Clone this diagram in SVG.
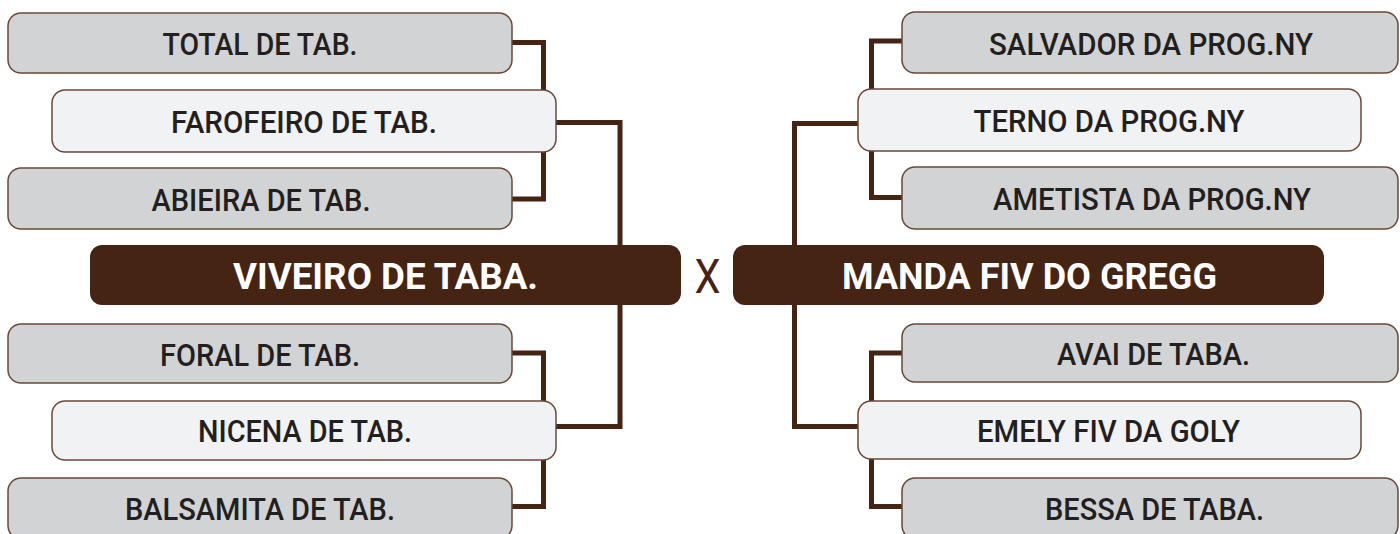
<svg xmlns="http://www.w3.org/2000/svg" width="1400" height="534" viewBox="0 0 1400 534">
<style>
.gray{fill:#d1d3d4;stroke:#6a4838;stroke-width:1.5}
.light{fill:#f1f2f4;stroke:#6a4838;stroke-width:1.5}
.dark{fill:#452414}
.conn{fill:none;stroke:#452414;stroke-width:5;stroke-linejoin:miter}
.t{font-family:Roboto,"Liberation Sans",Arial,sans-serif;font-weight:500;font-size:32px;fill:#231f20;text-anchor:middle}
.tb{font-family:Roboto,"Liberation Sans",Arial,sans-serif;font-weight:700;font-size:37px;fill:#ffffff;text-anchor:middle}
.x{font-family:Roboto,"Liberation Sans",Arial,sans-serif;font-weight:400;font-size:48px;fill:#452414;text-anchor:middle}
</style>
<rect width="1400" height="534" fill="#ffffff"/>
<g id="connectors">
<path class="conn" d="M505 42.5 H543.5 V199 H505"/>
<path class="conn" d="M550 122.5 H620 V426.5 H550"/>
<path class="conn" d="M505 353 H543.5 V506.5 H505"/>
<path class="conn" d="M910 41 H871.5 V197.5 H910"/>
<path class="conn" d="M865 123.5 H794.5 V426.5 H865"/>
<path class="conn" d="M910 353 H871.5 V506.5 H910"/>
</g>
<g id="total"><rect class="gray" x="8" y="13" width="504" height="60" rx="13"/><text class="t" x="260" y="55" textLength="195" lengthAdjust="spacingAndGlyphs">TOTAL DE TAB.</text></g>
<g id="farofeiro"><rect class="light" x="52" y="90" width="504" height="62" rx="13"/><text class="t" x="304" y="133" textLength="266" lengthAdjust="spacingAndGlyphs">FAROFEIRO DE TAB.</text></g>
<g id="abieira"><rect class="gray" x="8" y="168" width="504" height="61" rx="13"/><text class="t" x="261" y="210.5" textLength="219" lengthAdjust="spacingAndGlyphs">ABIEIRA DE TAB.</text></g>
<g id="viveiro"><rect class="dark" x="90" y="245" width="591" height="60" rx="12"/><text class="tb" x="385.5" y="289" textLength="305" lengthAdjust="spacingAndGlyphs">VIVEIRO DE TABA.</text></g>
<g id="foral"><rect class="gray" x="8" y="324" width="504" height="59" rx="13"/><text class="t" x="260" y="365.5" textLength="200" lengthAdjust="spacingAndGlyphs">FORAL DE TAB.</text></g>
<g id="nicena"><rect class="light" x="52" y="401" width="504" height="59" rx="13"/><text class="t" x="305" y="442" textLength="214" lengthAdjust="spacingAndGlyphs">NICENA DE TAB.</text></g>
<g id="balsamita"><rect class="gray" x="8" y="478" width="504" height="61" rx="13"/><text class="t" x="260" y="520" textLength="270" lengthAdjust="spacingAndGlyphs">BALSAMITA DE TAB.</text></g>
<g id="vs"><text class="x" x="707.5" y="293" textLength="26" lengthAdjust="spacingAndGlyphs">X</text></g>
<g id="salvador"><rect class="gray" x="902" y="12" width="496" height="61" rx="13"/><text class="t" x="1151" y="54.5" textLength="324" lengthAdjust="spacingAndGlyphs">SALVADOR DA PROG.NY</text></g>
<g id="terno"><rect class="light" x="858" y="89" width="503" height="62" rx="13"/><text class="t" x="1109" y="132" textLength="271" lengthAdjust="spacingAndGlyphs">TERNO DA PROG.NY</text></g>
<g id="ametista"><rect class="gray" x="902" y="167" width="496" height="62" rx="13"/><text class="t" x="1152" y="210" textLength="318" lengthAdjust="spacingAndGlyphs">AMETISTA DA PROG.NY</text></g>
<g id="manda"><rect class="dark" x="733" y="245" width="591" height="60" rx="12"/><text class="tb" x="1029.5" y="289" textLength="375" lengthAdjust="spacingAndGlyphs">MANDA FIV DO GREGG</text></g>
<g id="avai"><rect class="gray" x="902" y="324" width="496" height="58" rx="13"/><text class="t" x="1153.5" y="365" textLength="193" lengthAdjust="spacingAndGlyphs">AVAI DE TABA.</text></g>
<g id="emely"><rect class="light" x="858" y="401" width="503" height="58" rx="13"/><text class="t" x="1108.5" y="442" textLength="263" lengthAdjust="spacingAndGlyphs">EMELY FIV DA GOLY</text></g>
<g id="bessa"><rect class="gray" x="902" y="478" width="496" height="61" rx="13"/><text class="t" x="1154.5" y="520" textLength="219" lengthAdjust="spacingAndGlyphs">BESSA DE TABA.</text></g>
</svg>
